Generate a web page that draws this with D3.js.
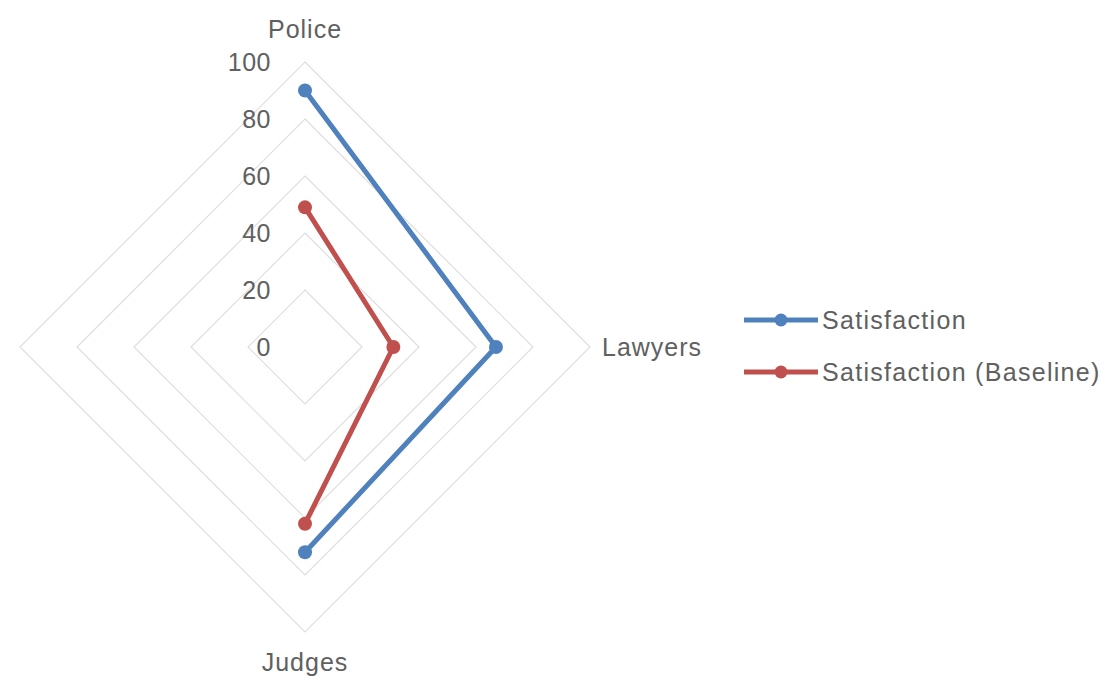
<!DOCTYPE html>
<html>
<head>
<meta charset="utf-8">
<script src="https://cdn.jsdelivr.net/npm/d3@7"></script>
<style>
  html, body { margin: 0; padding: 0; background: #ffffff; }
  svg { display: block; }
  text { font-family: "Liberation Sans", Arial, sans-serif; fill: #606060; }
</style>
</head>
<body>
<svg id="chart" width="1111" height="680"></svg>
<script>
// ---- data ----
const categories = ["Police", "Lawyers", "Judges", ""];
const satisfaction = [90, 67, 72, null];
const baseline = [49, 31, 62, null];
const tickValues = [0, 20, 40, 60, 80, 100];
const seriesNames = ["Satisfaction", "Satisfaction (Baseline)"];
const seriesColors = ["#4F81BD", "#C0504D"];

// ---- layout ----
const svg = d3.select("#chart");
const cx = 305, cy = 347, R = 285;
const r = d3.scaleLinear().domain([0, 100]).range([0, R]);
const angle = d3.scalePoint().domain(d3.range(categories.length + 1)).range([0, 2 * Math.PI]);
const ang = i => angle(i);

const g = svg.append("g").attr("transform", `translate(${cx},${cy})`);

// grid rings (diamonds)
const ringLine = d3.lineRadial()
  .angle((d, i) => ang(i))
  .radius(d => r(d));
tickValues.filter(t => t > 0).forEach(t => {
  const pts = categories.map(() => t);
  g.append("path")
    .attr("d", ringLine(pts) + "Z")
    .attr("fill", "none")
    .attr("stroke", "#dedede")
    .attr("stroke-width", 1.2);
});

// tick labels
g.selectAll("text.tick")
  .data(tickValues)
  .join("text")
  .attr("class", "tick")
  .attr("x", -34)
  .attr("y", d => -r(d))
  .attr("dy", "0.35em")
  .attr("text-anchor", "end")
  .attr("font-size", 25)
  .attr("letter-spacing", 0.5)
  .text(d => d);

// category labels
const labelPos = [
  { x: 0, y: -R - 33, anchor: "middle", dy: "0.35em" },
  { x: R + 12, y: 0, anchor: "start", dy: "0.35em" },
  { x: 0, y: R + 30, anchor: "middle", dy: "0.35em" },
  { x: -R - 12, y: 0, anchor: "end", dy: "0.35em" }
];
categories.forEach((c, i) => {
  if (!c) return;
  g.append("text")
    .attr("x", labelPos[i].x)
    .attr("y", labelPos[i].y)
    .attr("dy", labelPos[i].dy)
    .attr("text-anchor", labelPos[i].anchor)
    .attr("font-size", 25)
    .attr("letter-spacing", 1)
    .text(c);
});

// series
const seriesLine = d3.lineRadial()
  .defined(d => d != null)
  .angle((d, i) => ang(i))
  .radius(d => r(d));

[satisfaction, baseline].forEach((vals, s) => {
  g.append("path")
    .attr("d", seriesLine(vals))
    .attr("fill", "none")
    .attr("stroke", seriesColors[s])
    .attr("stroke-width", 5)
    .attr("stroke-linejoin", "round");
  g.selectAll(null)
    .data(vals.map((v, i) => ({ v, i })).filter(d => d.v != null))
    .join("circle")
    .attr("cx", d => r(d.v) * Math.sin(ang(d.i)))
    .attr("cy", d => -r(d.v) * Math.cos(ang(d.i)))
    .attr("r", 7)
    .attr("fill", seriesColors[s]);
});

// legend
const legend = svg.append("g").attr("transform", "translate(744,320)");
seriesNames.forEach((name, i) => {
  const row = legend.append("g").attr("transform", `translate(0,${i * 52})`);
  row.append("line")
    .attr("x1", 0).attr("x2", 74)
    .attr("stroke", seriesColors[i])
    .attr("stroke-width", 5);
  row.append("circle")
    .attr("cx", 37).attr("r", 6.5)
    .attr("fill", seriesColors[i]);
  row.append("text")
    .attr("x", 78)
    .attr("dy", "0.35em")
    .attr("font-size", 25)
    .attr("letter-spacing", 1.3)
    .text(name);
});
</script>
</body>
</html>
